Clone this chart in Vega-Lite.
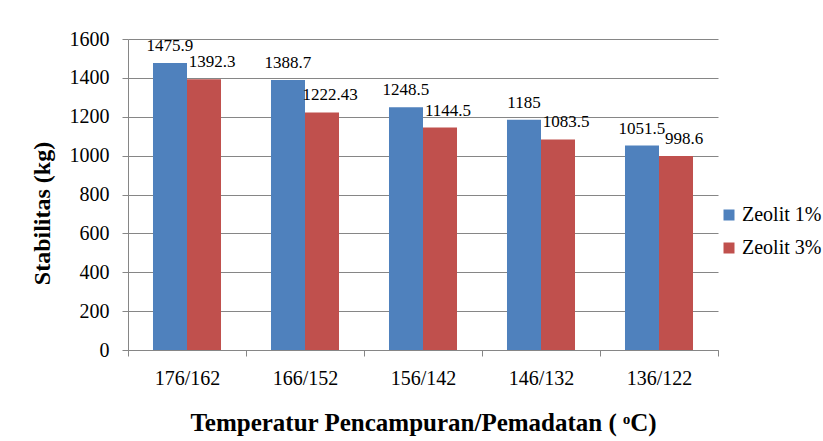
{
  "$schema": "https://vega.github.io/schema/vega-lite/v6.json",
  "width": 590,
  "height": 311,
  "autosize": {"type": "none"},
  "padding": {"left": 128, "top": 39, "right": 105, "bottom": 91},
  "background": "white",
  "config": {
    "view": {"stroke": null},
    "font": "Liberation Serif",
    "axis": {"labelFont": "Liberation Serif", "titleFont": "Liberation Serif", "labelColor": "#000000", "titleColor": "#000000"},
    "legend": {"labelFont": "Liberation Serif"}
  },
  "data": {
    "values": [
      {"temp": "176/162", "zeolit": "Zeolit 1%", "value": 1475.9},
      {"temp": "176/162", "zeolit": "Zeolit 3%", "value": 1392.3},
      {"temp": "166/152", "zeolit": "Zeolit 1%", "value": 1388.7},
      {"temp": "166/152", "zeolit": "Zeolit 3%", "value": 1222.43},
      {"temp": "156/142", "zeolit": "Zeolit 1%", "value": 1248.5},
      {"temp": "156/142", "zeolit": "Zeolit 3%", "value": 1144.5},
      {"temp": "146/132", "zeolit": "Zeolit 1%", "value": 1185},
      {"temp": "146/132", "zeolit": "Zeolit 3%", "value": 1083.5},
      {"temp": "136/122", "zeolit": "Zeolit 1%", "value": 1051.5},
      {"temp": "136/122", "zeolit": "Zeolit 3%", "value": 998.6}
    ]
  },
  "encoding": {
    "x": {
      "field": "temp",
      "type": "nominal",
      "sort": null,
      "scale": {"paddingInner": 0, "paddingOuter": 0},
      "axis": {
        "title": "Temperatur Pencampuran/Pemadatan ( ᵒC)",
        "titleFontSize": 25,
        "titleFontWeight": "bold",
        "titleX": 295,
        "titleY": 80,
        "titleBaseline": "alphabetic",
        "labelFontSize": 20,
        "labelAngle": 0,
        "labelPadding": 12,
        "tickBand": "extent",
        "tickSize": 6,
        "tickColor": "#868686",
        "domainColor": "#868686",
        "grid": false
      }
    },
    "xOffset": {"field": "zeolit", "type": "nominal", "sort": null, "scale": {"paddingInner": 0, "paddingOuter": 0.735}},
    "y": {
      "field": "value",
      "type": "quantitative",
      "scale": {"domain": [0, 1600], "nice": false},
      "axis": {
        "title": "Stabilitas (kg)",
        "titleFontSize": 24,
        "titleFontWeight": "bold",
        "titleX": -74,
        "titleY": 174,
        "values": [0, 200, 400, 600, 800, 1000, 1200, 1400, 1600],
        "format": "d",
        "labelFontSize": 20,
        "labelPadding": 13,
        "tickSize": 6,
        "tickColor": "#868686",
        "domainColor": "#868686",
        "gridColor": "#868686",
        "grid": true
      }
    }
  },
  "layer": [
    {
      "mark": {"type": "bar"},
      "encoding": {
        "color": {
          "field": "zeolit",
          "type": "nominal",
          "scale": {"domain": ["Zeolit 1%", "Zeolit 3%"], "range": ["#4F81BD", "#C0504D"]},
          "legend": {
            "title": null,
            "orient": "none",
            "legendX": 591,
            "legendY": 166,
            "symbolType": "square",
            "symbolSize": 121,
            "symbolStrokeWidth": 0,
            "labelFontSize": 20,
            "labelColor": "#000000",
            "labelOffset": 3,
            "rowPadding": 13
          }
        }
      }
    },
    {
      "transform": [{"filter": "datum.zeolit === 'Zeolit 1%'"}],
      "mark": {"type": "text", "font": "Liberation Serif", "baseline": "alphabetic", "dy": -12, "fontSize": 17, "color": "#000000"},
      "encoding": {"text": {"field": "value", "type": "nominal"}}
    },
    {
      "transform": [{"filter": "datum.zeolit === 'Zeolit 3%'"}],
      "mark": {"type": "text", "font": "Liberation Serif", "baseline": "alphabetic", "dy": -12, "dx": 8, "fontSize": 17, "color": "#000000"},
      "encoding": {"text": {"field": "value", "type": "nominal"}}
    }
  ]
}
